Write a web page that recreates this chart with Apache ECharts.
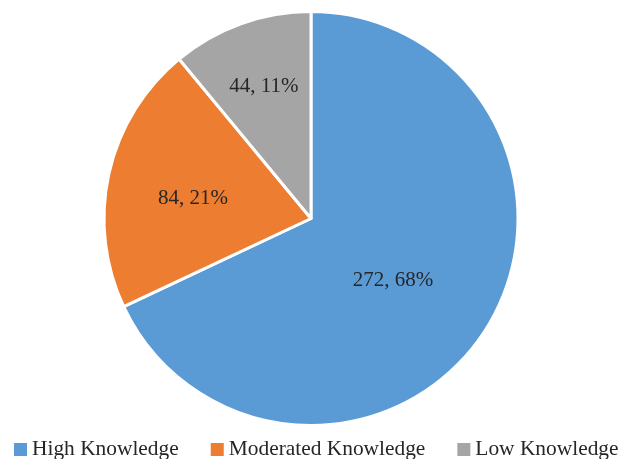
<!DOCTYPE html>
<html>
<head>
<meta charset="utf-8">
<script src="https://cdn.jsdelivr.net/npm/echarts@6/dist/echarts.min.js"></script>
<style>
  html, body { margin: 0; padding: 0; background: #fff; }
  #main { width: 619px; height: 459px; }
</style>
</head>
<body>
<div id="main"></div>
<script>
const categories = ['High Knowledge', 'Moderated Knowledge', 'Low Knowledge'];
const counts = [272, 84, 44];
const percents = [68, 21, 11];
const colors = ['#5B9BD5', '#ED7D31', '#A5A5A5'];
// nudges so labels sit where the original put them
const labelOffsets = [[-8, 5], [-14, 3], [-11, -32]];

const serif = '"Liberation Serif", "Times New Roman", serif';

let chart = echarts.init(document.getElementById('main'));
chart.setOption({
  animation: false,
  color: colors,
  legend: {
    data: categories,
    left: 14,
    top: 439,
    width: 900,
    padding: 0,
    itemWidth: 13,
    itemHeight: 13,
    itemGap: 32,
    icon: 'rect',
    itemStyle: { borderWidth: 0 },
    textStyle: { fontFamily: serif, fontSize: 21.4, color: '#262626', padding: [0, 0, 0, 0] }
  },
  series: [{
    type: 'pie',
    center: [311, 218.5],
    radius: [0, 207],
    startAngle: 90,
    clockwise: true,
    itemStyle: { borderColor: '#fff', borderWidth: 3 },
    label: {
      show: true,
      position: 'inside',
      fontFamily: serif,
      fontSize: 21,
      color: '#262626',
      formatter: function (p) {
        return counts[p.dataIndex] + ', ' + percents[p.dataIndex] + '%';
      }
    },
    labelLine: { show: false },
    emphasis: { disabled: true },
    data: categories.map(function (c, i) {
      return { name: c, value: counts[i], label: { offset: labelOffsets[i] } };
    })
  }]
});
</script>
</body>
</html>
